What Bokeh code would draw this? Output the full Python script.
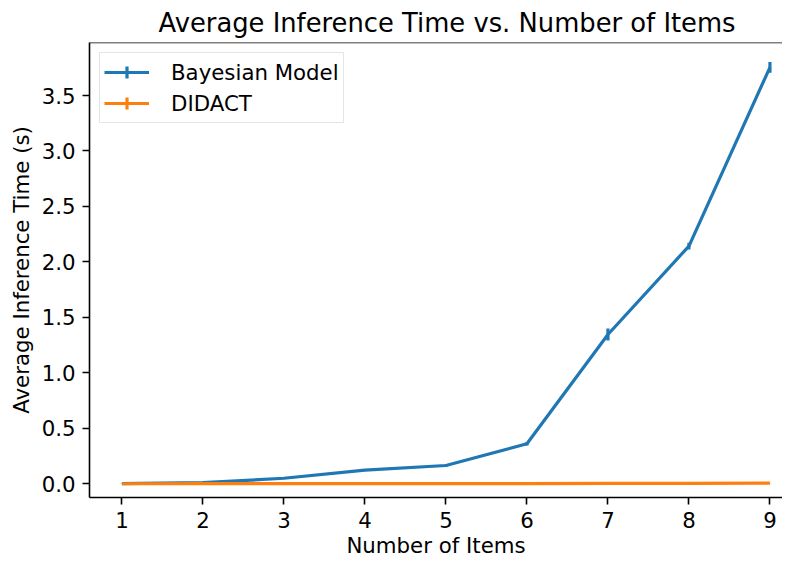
from bokeh.plotting import figure
from bokeh.models import (ColumnDataSource, Range1d, FixedTicker, NumeralTickFormatter,
                          Legend, LegendItem, Span)
from bokeh.embed import file_html
from bokeh.resources import INLINE

# ---- data ----
items = [1, 2, 3, 4, 5, 6, 7, 8, 9]
bayes_mean = [0.002, 0.01, 0.05, 0.123, 0.165, 0.361, 1.346, 2.143, 3.754]
bayes_err = [0.001, 0.002, 0.004, 0.006, 0.01, 0.015, 0.054, 0.03, 0.048]
didact_mean = [0.0005, 0.0007, 0.0009, 0.0012, 0.0016, 0.002, 0.003, 0.004, 0.006]
didact_err = [0.0001, 0.0001, 0.0001, 0.0001, 0.0002, 0.0002, 0.0003, 0.0003, 0.0004]
y_ticks = [0.0, 0.5, 1.0, 1.5, 2.0, 2.5, 3.0, 3.5]
x_ticks = items

BLUE = "#1f77b4"
ORANGE = "#ff7f0e"
FONT = "DejaVu Sans"
FS = "21.3px"

def make_src(mean, err):
    return ColumnDataSource(dict(
        x=items, y=mean,
        lo=[m - e for m, e in zip(mean, err)],
        hi=[m + e for m, e in zip(mean, err)],
    ))

src_b = make_src(bayes_mean, bayes_err)
src_d = make_src(didact_mean, didact_err)

y_start, y_end = -0.1235, 3.978
p = figure(frame_width=693, frame_height=455, output_backend="svg", toolbar_location=None,
           x_range=Range1d(0.6, 9.155), y_range=Range1d(y_start, y_end),
           min_border_left=89, min_border_right=0, min_border_top=34, min_border_bottom=66)

p.title.text = "Average Inference Time vs. Number of Items"
p.title.text_font = FONT
p.title.text_font_size = "25.8px"
p.title.text_font_style = "normal"
p.title.align = "left"
p.title.offset = 69
p.title.text_color = "black"

p.outline_line_color = None
p.background_fill_color = "white"
p.border_fill_color = "white"
p.xgrid.grid_line_color = None
p.ygrid.grid_line_color = None

for ax in (p.xaxis[0], p.yaxis[0]):
    ax.axis_line_width = 1.6
    ax.axis_line_color = "black"
    ax.major_tick_line_width = 1.6
    ax.major_tick_line_color = "black"
    ax.major_tick_in = 0
    ax.major_tick_out = 7
    ax.minor_tick_line_color = None
    ax.major_label_text_font = FONT
    ax.major_label_text_font_size = FS
    ax.major_label_text_color = "black"
    ax.axis_label_text_font = FONT
    ax.axis_label_text_font_size = FS
    ax.axis_label_text_font_style = "normal"
    ax.axis_label_text_color = "black"

p.xaxis.ticker = FixedTicker(ticks=x_ticks)
p.yaxis.ticker = FixedTicker(ticks=y_ticks)
p.yaxis.formatter = NumeralTickFormatter(format="0.0")
p.xaxis.axis_label = "Number of Items"
p.yaxis.axis_label = "Average Inference Time (s)"
p.xaxis.major_label_standoff = 7
p.xaxis.axis_label_standoff = 2
p.yaxis.major_label_standoff = 7
p.yaxis.axis_label_standoff = 5

# top spine
p.add_layout(Span(location=y_end, dimension="width", line_color="black", line_width=1.6))

# Bayesian
lb = p.line("x", "y", source=src_b, line_color=BLUE, line_width=3.2)
eb = p.segment("x", "lo", "x", "hi", source=src_b, line_color=BLUE, line_width=3.2)
cb = p.scatter("x", "y", source=src_b, marker="cross", size=0, line_color=BLUE, line_width=3.2)
# DIDACT
ld = p.line("x", "y", source=src_d, line_color=ORANGE, line_width=3.2)
ed = p.segment("x", "lo", "x", "hi", source=src_d, line_color=ORANGE, line_width=3.2)
cd = p.scatter("x", "y", source=src_d, marker="cross", size=0, line_color=ORANGE, line_width=3.2)

legend = Legend(items=[LegendItem(label="Bayesian Model", renderers=[lb, cb]),
                       LegendItem(label="DIDACT", renderers=[ld, cd])],
                location="top_left", margin=10, padding=4, spacing=1,
                glyph_width=45, glyph_height=30, label_standoff=22,
                label_text_font=FONT, label_text_font_size=FS, label_text_color="black",
                border_line_color="#cccccc", border_line_width=1.6,
                background_fill_color="white", background_fill_alpha=0.8)
p.add_layout(legend)

open("out.html", "w").write(file_html(p, INLINE))
